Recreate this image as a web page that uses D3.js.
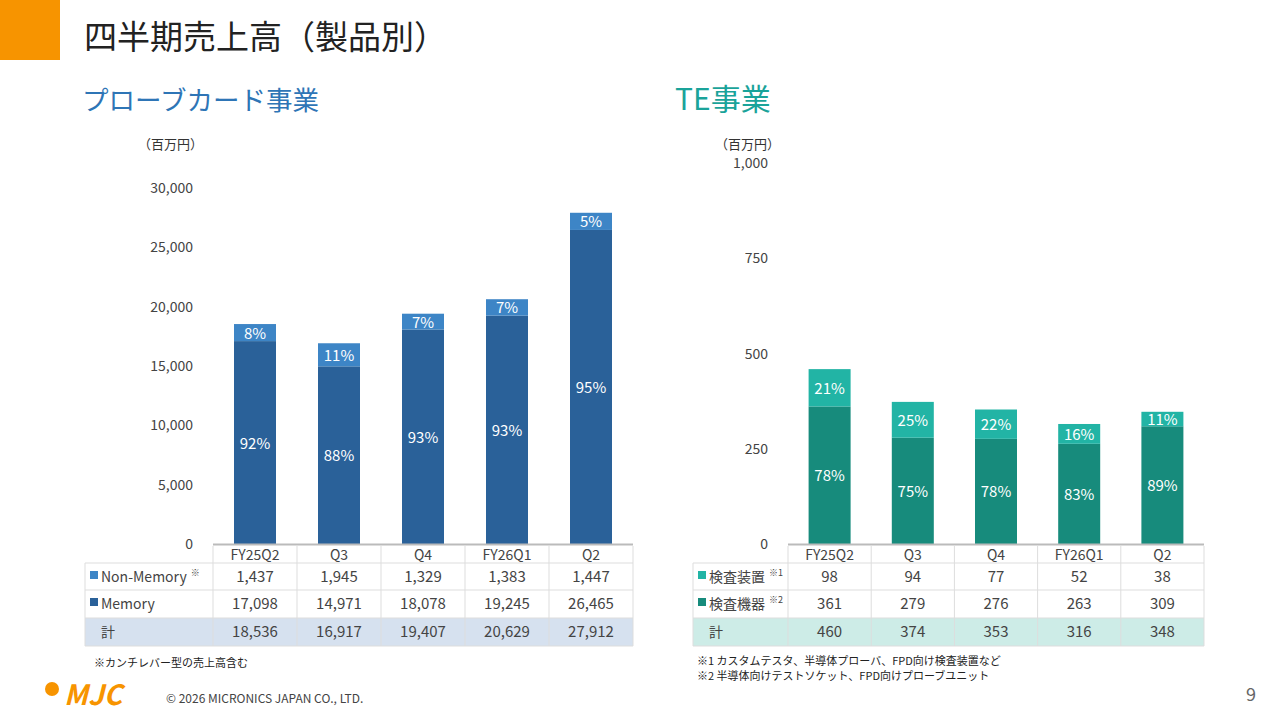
<!DOCTYPE html><html><head><meta charset="utf-8"><script src="https://cdn.jsdelivr.net/npm/d3@7"></script>
<style>body{margin:0;background:#fff}text{font-family:"Noto Sans CJK JP","Noto Sans",sans-serif}</style></head><body>
<svg id="s" width="1280" height="720"></svg>
<script>
const categories=["FY25Q2","Q3","Q4","FY26Q1","Q2"];
const pcNonMemory=[1437,1945,1329,1383,1447];
const pcMemory=[17098,14971,18078,19245,26465];
const pcTotal=[18536,16917,19407,20629,27912];
const pcNonMemPct=["8%","11%","7%","7%","5%"];
const pcMemPct=["92%","88%","93%","93%","95%"];
const pcTicks=[0,5000,10000,15000,20000,25000,30000];
const teEquip=[98,94,77,52,38];
const teDevice=[361,279,276,263,309];
const teTotal=[460,374,353,316,348];
const teEquipPct=["21%","25%","22%","16%","11%"];
const teDevicePct=["78%","75%","78%","83%","89%"];
const teTicks=[0,250,500,750,1000];

const svg=d3.select("#s");
const fmt=d3.format(",");
svg.append("rect").attr("x",0).attr("y",0).attr("width",60).attr("height",60).attr("fill","#f79400");
svg.append("text").attr("x",84).attr("y",49).attr("font-size",33).attr("fill","#222").text("四半期売上高（製品別）");
svg.append("text").attr("x",82).attr("y",110).attr("font-size",26.5).attr("fill","#2e75b6").text("プローブカード事業");
svg.append("text").attr("x",675).attr("y",110).attr("font-size",30).attr("fill","#1aa39a").text("TE事業");

function panel(o){
  const x=d3.scaleBand().domain(categories).range([o.x0,o.x1]).paddingInner(0).paddingOuter(0);
  const y=d3.scaleLinear().domain([0,o.max]).range([544,o.ytop]);
  const g=svg.append("g");
  g.append("text").attr("x",o.unitX).attr("y",o.unitY).attr("font-size",13).attr("fill","#333").text("（百万円）");
  o.ticks.forEach(t=>g.append("text").attr("x",o.x0-20).attr("y",y(t)+5).attr("text-anchor","end").attr("font-size",14).attr("fill","#444").text(fmt(t)));
  const bw=42;
  categories.forEach((c,i)=>{
    const cx=x(c)+x.bandwidth()/2;
    const a=o.low[i], b=o.high[i];
    g.append("rect").attr("x",cx-bw/2).attr("y",y(a)).attr("width",bw).attr("height",544-y(a)).attr("fill",o.cLow);
    g.append("rect").attr("x",cx-bw/2).attr("y",y(a+b)).attr("width",bw).attr("height",y(a)-y(a+b)).attr("fill",o.cHigh);
    g.append("text").attr("x",cx).attr("y",(y(0)+y(a))/2+6).attr("text-anchor","middle").attr("font-size",15).attr("fill","#fff").text(o.lowPct[i]);
    g.append("text").attr("x",cx).attr("y",(y(a)+y(a+b))/2+6).attr("text-anchor","middle").attr("font-size",15).attr("fill","#fff").text(o.highPct[i]);
  });
  g.append("line").attr("x1",o.x0).attr("x2",o.x1).attr("y1",544.5).attr("y2",544.5).attr("stroke","#bbb").attr("stroke-width",2);
  const rows=[{y:563,label:o.lHigh,col:o.cHigh,vals:o.high},{y:590,label:o.lLow,col:o.cLow,vals:o.low},{y:618,label:"計",col:null,vals:o.tot}];
  g.append("rect").attr("x",o.tl).attr("y",618).attr("width",o.x1-o.tl).attr("height",28).attr("fill",o.totBg);
  categories.forEach(c=>g.append("text").attr("x",x(c)+x.bandwidth()/2).attr("y",560).attr("text-anchor","middle").attr("font-size",14).attr("fill","#444").text(c));
  rows.forEach(r=>{
    if(r.col){g.append("rect").attr("x",o.tl+5).attr("y",r.y+8).attr("width",8).attr("height",8).attr("fill",r.col);
      const t=g.append("text").attr("x",o.tl+16).attr("y",r.y+19).attr("font-size",14).attr("fill","#444").text(r.label.t);
      if(r.label.n) t.append("tspan").attr("font-size",9).attr("dy",-6).attr("dx",4).text(r.label.n);}
    else g.append("text").attr("x",o.tl+16).attr("y",r.y+19).attr("font-size",14).attr("fill","#444").text(r.label);
    categories.forEach((c,i)=>g.append("text").attr("x",x(c)+x.bandwidth()/2).attr("y",r.y+19).attr("text-anchor","middle").attr("font-size",15).attr("fill","#444").text(fmt(r.vals[i])));
  });
  [563,590,618,646].forEach(yy=>g.append("line").attr("x1",o.tl).attr("x2",o.x1).attr("y1",yy).attr("y2",yy).attr("stroke","#ddd"));
  categories.forEach(c=>g.append("line").attr("x1",x(c)).attr("x2",x(c)).attr("y1",546).attr("y2",646).attr("stroke","#ddd"));
  g.append("line").attr("x1",o.x1).attr("x2",o.x1).attr("y1",546).attr("y2",646).attr("stroke","#ddd");
  g.append("line").attr("x1",o.tl).attr("x2",o.tl).attr("y1",563).attr("y2",646).attr("stroke","#ddd");
}
panel({x0:213,x1:633,tl:85,max:30000,ytop:188,ticks:pcTicks,low:pcMemory,high:pcNonMemory,tot:pcTotal,lowPct:pcMemPct,highPct:pcNonMemPct,cLow:"#2a6199",cHigh:"#3d85c6",lLow:{t:"Memory"},lHigh:{t:"Non-Memory",n:"※"},totBg:"#d6e1ef",unitX:138,unitY:149});
panel({x0:788,x1:1204,tl:693,max:1000,ytop:163,ticks:teTicks,low:teDevice,high:teEquip,tot:teTotal,lowPct:teDevicePct,highPct:teEquipPct,cLow:"#178b7c",cHigh:"#22b4a5",lLow:{t:"検査機器",n:"※2"},lHigh:{t:"検査装置",n:"※1"},totBg:"#cdece7",unitX:715,unitY:149});
svg.append("text").attr("x",94).attr("y",667).attr("font-size",11).attr("fill","#222").text("※カンチレバー型の売上高含む");
svg.append("text").attr("x",697).attr("y",665).attr("font-size",11).attr("fill","#222").text("※1 カスタムテスタ、半導体プローバ、FPD向け検査装置など");
svg.append("text").attr("x",697).attr("y",680).attr("font-size",11).attr("fill","#222").text("※2 半導体向けテストソケット、FPD向けプローブユニット");
svg.append("circle").attr("cx",52).attr("cy",689).attr("r",7).attr("fill","#f79400");
svg.append("text").attr("x",64).attr("y",705).attr("font-size",28).attr("font-weight","bold").attr("font-style","italic").attr("fill","#f79400").text("MJC");
svg.append("text").attr("x",166).attr("y",703).attr("font-size",12).attr("fill","#444").text("© 2026 MICRONICS JAPAN CO., LTD.");
svg.append("text").attr("x",1256).attr("y",701).attr("font-size",18).attr("text-anchor","end").attr("fill","#666").text("9");
</script></body></html>
